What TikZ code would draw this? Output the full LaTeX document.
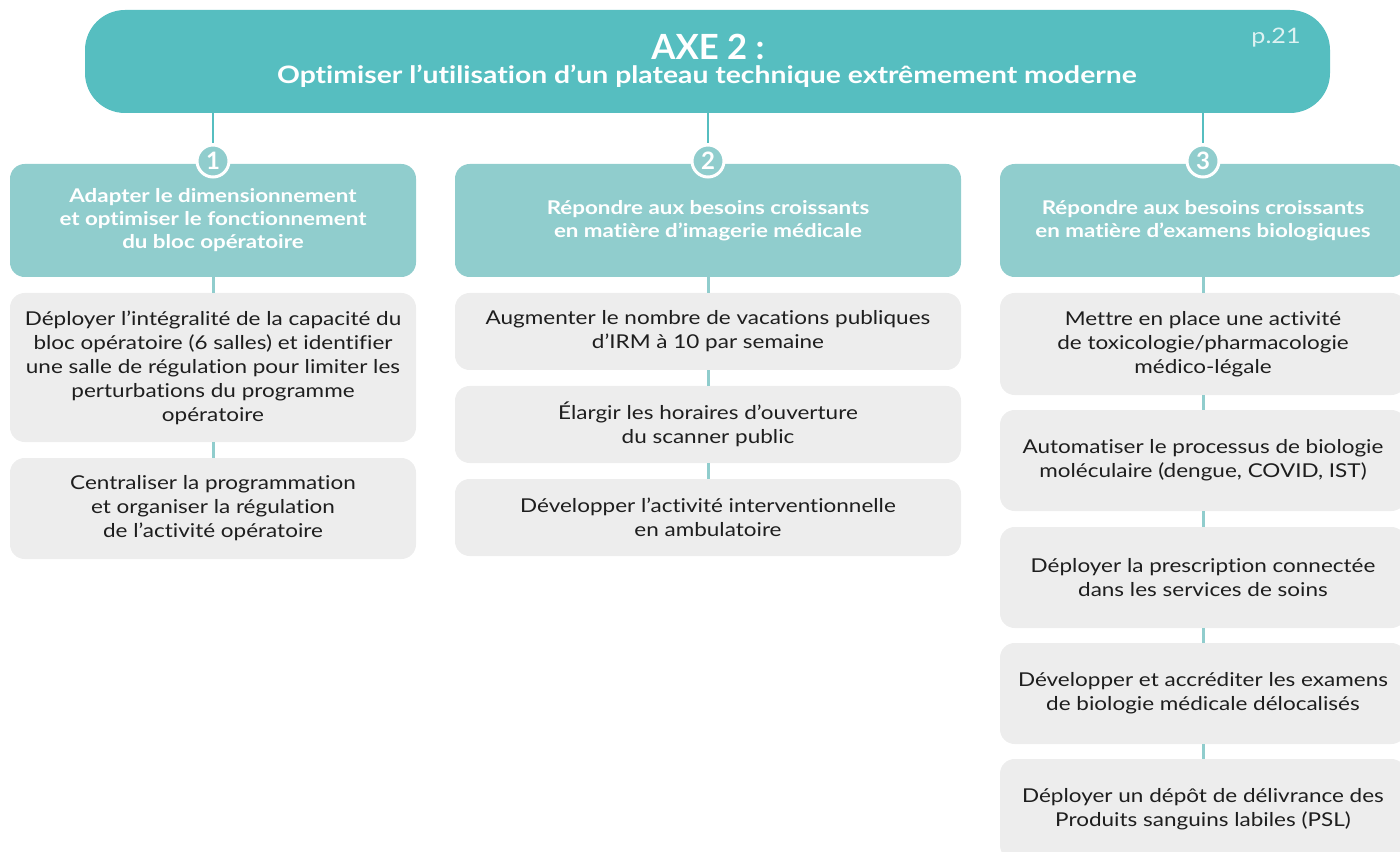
\documentclass[tikz,border=0pt]{standalone}
\usepackage{fontspec}
\setmainfont{Lato}[FakeStretch=1.18, Ligatures=NoCommon]
\newfontfamily\titlefont{Lato}[Ligatures=NoCommon]
\definecolor{axe}{HTML}{56BEC0}
\definecolor{hdr}{HTML}{90CDCD}
\definecolor{greybox}{HTML}{EDEDED}
\definecolor{txt}{HTML}{1E1E1E}
\definecolor{pg}{HTML}{DDF2F2}
\begin{document}
\begin{tikzpicture}[x=0.75pt,y=-0.75pt,
  banner/.style={fill=axe, rounded corners=30pt, minimum width=933.75pt, minimum height=77.25pt, inner sep=0pt},
  hdrbox/.style={fill=hdr, rounded corners=11pt, inner sep=0pt, minimum height=84.75pt, text=white, align=center, font=\bfseries\fontsize{14.2}{17.25}\selectfont},
  item/.style={fill=greybox, rounded corners=11pt, inner sep=0pt, align=center, text=txt, font=\fontsize{14.3}{18}\selectfont},
  num/.style={circle, fill=hdr, draw=white, line width=2.25pt, minimum size=24pt, inner sep=0pt, text=white, font=\titlefont\bfseries\fontsize{18}{18}\selectfont},
  trunk/.style={draw=axe, line width=2pt},
  link/.style={draw=hdr, line width=2.25pt}]
\useasboundingbox (0,0) rectangle (1400,852);
\begin{scope}
\clip (0,0) rectangle (1400,852);
% banner
\node[banner] (banner) at (707.5,61.5) {};
\node[text=white, font=\titlefont\bfseries\fontsize{26}{26}\selectfont] (title) at (708,47) {AXE 2 :};
\node[text=white, font=\bfseries\fontsize{18}{18}\selectfont] (subtitle) at (707,76) {Optimiser l’utilisation d’un plateau technique extrêmement moderne};
\node[text=pg, font=\fontsize{16}{16}\selectfont] (page) at (1276,38) {p.21};
% headers
\node[hdrbox, minimum width=304.5pt] (h1) at (213,220.5) {Adapter le dimensionnement\\et optimiser le fonctionnement\\du bloc opératoire};
\node[hdrbox, minimum width=379.5pt] (h2) at (708,220.5) {Répondre aux besoins croissants\\en matière d’imagerie médicale};
\node[hdrbox, minimum width=304.5pt] (h3) at (1203,220.5) {Répondre aux besoins croissants\\en matière d’examens biologiques};
% items col 1
\node[item, minimum width=304.5pt, minimum height=111.75pt] (a1) at (213,367.5) {Déployer l’intégralité de la capacité du\\bloc opératoire (6 salles) et identifier\\une salle de régulation pour limiter les\\perturbations du programme\\opératoire};
\node[item, minimum width=304.5pt, minimum height=75.75pt] (a2) at (213,508.5) {Centraliser la programmation\\et organiser la régulation\\de l’activité opératoire};
% items col 2
\node[item, minimum width=379.5pt, minimum height=57.75pt] (b1) at (708,331.5) {Augmenter le nombre de vacations publiques\\d’IRM à 10 par semaine};
\node[item, minimum width=379.5pt, minimum height=57.75pt] (b2) at (708,424.5) {Élargir les horaires d’ouverture\\du scanner public};
\node[item, minimum width=379.5pt, minimum height=57.75pt] (b3) at (708,517.5) {Développer l’activité interventionnelle\\en ambulatoire};
% items col 3
\node[item, minimum width=304.5pt, minimum height=76.5pt] (c1) at (1203,344) {Mettre en place une activité\\de toxicologie/pharmacologie\\médico-légale};
\node[item, minimum width=304.5pt, minimum height=75.75pt] (c2) at (1203,460.5) {Automatiser le processus de biologie\\moléculaire (dengue, COVID, IST)};
\node[item, minimum width=304.5pt, minimum height=75.75pt] (c3) at (1203,577.5) {Déployer la prescription connectée\\dans les services de soins};
\node[item, minimum width=304.5pt, minimum height=75.75pt] (c4) at (1203,693.5) {Développer et accréditer les examens\\de biologie médicale délocalisés};
\node[item, minimum width=304.5pt, minimum height=75.75pt] (c5) at (1203,809.5) {Déployer un dépôt de délivrance des\\Produits sanguins labiles (PSL)};
% links
\draw[link] (h1.south) -- (a1.north);
\draw[link] (a1.south) -- (a2.north);
\draw[link] (h2.south) -- (b1.north);
\draw[link] (b1.south) -- (b2.north);
\draw[link] (b2.south) -- (b3.north);
\draw[link] (h3.south) -- (c1.north);
\draw[link] (c1.south) -- (c2.north);
\draw[link] (c2.south) -- (c3.north);
\draw[link] (c3.south) -- (c4.north);
\draw[link] (c4.south) -- (c5.north);
% numbers
\node[num] (n1) at (213,161) {1};
\node[num] (n2) at (708,161) {2};
\node[num] (n3) at (1203,161) {3};
\draw[trunk] (banner.south -| n1) -- (n1.north);
\draw[trunk] (banner.south -| n2) -- (n2.north);
\draw[trunk] (banner.south -| n3) -- (n3.north);
\end{scope}
\end{tikzpicture}
\end{document}
